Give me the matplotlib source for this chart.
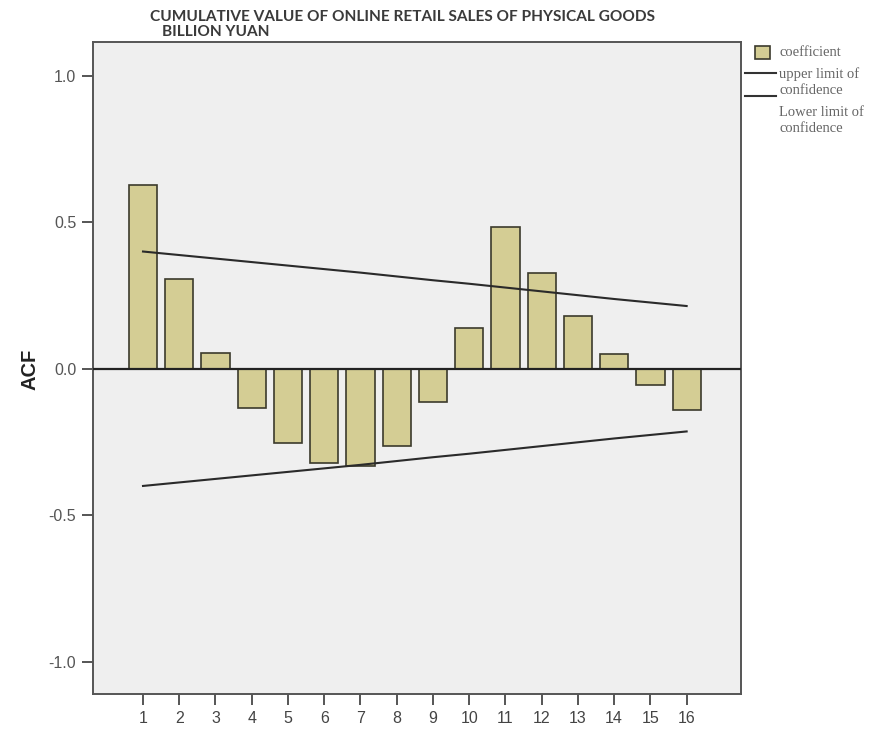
import matplotlib
matplotlib.use("Agg")
import matplotlib.pyplot as plt
from matplotlib.lines import Line2D
from matplotlib.patches import Rectangle

lags = list(range(1, 17))
acf = [0.628, 0.306, 0.053, -0.134, -0.254, -0.321, -0.333, -0.265,
       -0.114, 0.140, 0.483, 0.328, 0.179, 0.051, -0.057, -0.142]
upper = [0.400, 0.388, 0.376, 0.364, 0.352, 0.340, 0.328, 0.315,
         0.302, 0.290, 0.277, 0.264, 0.251, 0.238, 0.226, 0.214]
lower = [-v for v in upper]
yticks = [-1.0, -0.5, 0.0, 0.5, 1.0]
title_lines = ["CUMULATIVE VALUE OF ONLINE RETAIL SALES OF PHYSICAL GOODS",
               "BILLION YUAN"]
legend_labels = ["coefficient", "upper limit of\nconfidence", "Lower limit of\nconfidence"]

W, H = 873, 729
fig = plt.figure(figsize=(W / 100, H / 100), dpi=100)
ax = fig.add_axes([93 / W, 1 - 694 / H, (741 - 93) / W, (694 - 42) / H])
ax.set_facecolor("#efefef")

bar_color = "#d4cd94"
edge_color = "#3b3a2c"
ax.bar(lags, acf, width=0.78, color=bar_color, edgecolor=edge_color, linewidth=1.2, zorder=2)
ax.axhline(0, color="#222222", linewidth=1.6, zorder=3)
ax.plot(lags, upper, color="#2a2a2a", linewidth=1.5, zorder=4)
ax.plot(lags, lower, color="#2a2a2a", linewidth=1.5, zorder=4)

ax.set_xlim(-0.38, 17.5)
ax.set_ylim(-1.11, 1.115)
ax.set_xticks(lags)
ax.set_xticklabels([str(l) for l in lags], fontsize=11.5, color="#444444",
                   family="Liberation Sans")
ax.set_yticks(yticks)
ax.set_yticklabels([f"{v:.1f}" for v in yticks], fontsize=11.5, color="#555555",
                   family="Liberation Sans")
ax.tick_params(axis="both", direction="out", length=8, width=1.4, color="#555555", pad=4)
for s in ax.spines.values():
    s.set_color("#555555")
    s.set_linewidth(1.4)

fig.text(30 / W, 1 - 369 / H, "ACF", rotation=90, fontsize=14.5, fontweight="bold",
         family="Liberation Sans", color="#222222", ha="center", va="center")

fig.text(150 / W, 1 - 17 / H, title_lines[0], fontsize=11.1, fontweight="bold",
         family="Lato", color="#3a3a3a", va="center", ha="left")
fig.text(162 / W, 1 - 32 / H, title_lines[1], fontsize=11.1, fontweight="bold",
         family="Lato", color="#3a3a3a", va="center", ha="left")

# legend (drawn in figure coordinates)
fig.patches.append(Rectangle((755 / W, 1 - 59 / H), 15 / W, 13 / H, transform=fig.transFigure,
                             facecolor=bar_color, edgecolor=edge_color, linewidth=1.2))
fig.lines.append(Line2D([745 / W, 776 / W], [1 - 73 / H, 1 - 73 / H], transform=fig.transFigure,
                        color="#333333", linewidth=1.5))
fig.lines.append(Line2D([745 / W, 776 / W], [1 - 96 / H, 1 - 96 / H], transform=fig.transFigure,
                        color="#333333", linewidth=1.5))
lfont = dict(family="Liberation Serif", fontsize=10.5, color="#666666", ha="left", va="center",
             linespacing=1.3)
fig.text(779 / W, 1 - 53 / H, legend_labels[0], **lfont)
fig.text(779 / W, 1 - 82 / H, legend_labels[1], **lfont)
fig.text(779 / W, 1 - 120 / H, legend_labels[2], **lfont)

fig.savefig("out.png", dpi=100, facecolor="white")
